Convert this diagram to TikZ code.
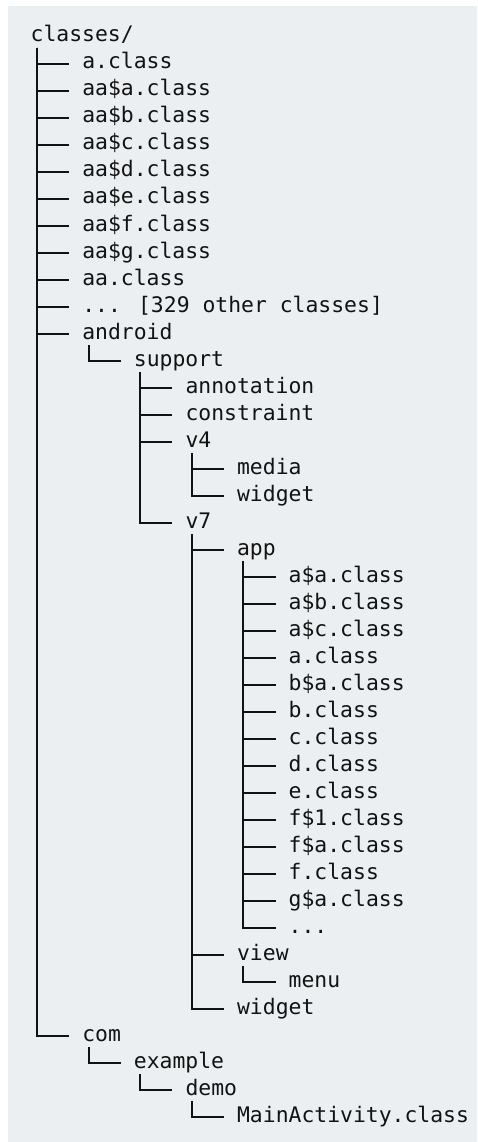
\documentclass[tikz,border=0pt]{standalone}
\usepackage{fontspec}
\newfontfamily\treefont{DejaVu Sans Mono}
\usepackage{tikz}
\definecolor{pagebg}{RGB}{236,239,241}
\definecolor{ink}{RGB}{18,18,18}
\tikzstyle{entry}=[anchor=base west,inner sep=0pt,text height=10pt,text depth=0pt,text=ink,font=\treefont\fontsize{21.4}{27}\selectfont]
\tikzstyle{branch}=[draw=ink,line width=2pt]
\begin{document}
\begin{tikzpicture}[x=1pt,y=-1pt]
\useasboundingbox (0,0) rectangle (477,1142);
\fill[pagebg] (8,6) rectangle (477,1142);
% level 0 and 1
\node[entry] (root) at (30.5,42) {classes/};
\node[entry] (a) at (82.1,69) {a.class};
\node[entry] (aaa) at (82.1,96) {aa\$a.class};
\node[entry] (aab) at (82.1,123) {aa\$b.class};
\node[entry] (aac) at (82.1,150) {aa\$c.class};
\node[entry] (aad) at (82.1,177) {aa\$d.class};
\node[entry] (aae) at (82.1,204) {aa\$e.class};
\node[entry] (aaf) at (82.1,231) {aa\$f.class};
\node[entry] (aag) at (82.1,258) {aa\$g.class};
\node[entry] (aa) at (82.1,285) {aa.class};
\node[entry] (other) at (82.1,312) {... [329 other classes]};
\node[entry] (android) at (82.1,339) {android};
\node[entry] (com) at (82.1,1041) {com};
% android/support
\node[entry] (support) at (133.7,366) {support};
\node[entry] (annot) at (185.3,393) {annotation};
\node[entry] (constr) at (185.3,420) {constraint};
\node[entry] (vfour) at (185.3,447) {v4};
\node[entry] (media) at (236.9,474) {media};
\node[entry] (widgetA) at (236.9,501) {widget};
\node[entry] (vseven) at (185.3,528) {v7};
\node[entry] (app) at (236.9,555) {app};
\foreach \t [count=\i] in {a\$a.class,a\$b.class,a\$c.class,a.class,b\$a.class,b.class,c.class,d.class,e.class,f\$1.class,f\$a.class,f.class,g\$a.class}
  \node[entry] (app\i) at (288.5,{555+27*\i}) {\t};
\node[entry] (app14) at (288.5,933) {{...}};
\node[entry] (view) at (236.9,960) {view};
\node[entry] (menu) at (288.5,987) {menu};
\node[entry] (widgetB) at (236.9,1014) {widget};
% com/example
\node[entry] (example) at (133.7,1068) {example};
\node[entry] (demo) at (185.3,1095) {demo};
\node[entry] (main) at (236.9,1122) {MainActivity.class};
% tree lines
\foreach \p/\c in {root/a,root/aaa,root/aab,root/aac,root/aad,root/aae,root/aaf,root/aag,root/aa,root/other,root/android,root/com,
  android/support,support/annot,support/constr,support/vfour,support/vseven,vfour/media,vfour/widgetA,
  vseven/app,vseven/view,vseven/widgetB,view/menu,com/example,example/demo,demo/main}
  \draw[branch] ([xshift=6.45pt,yshift=-6pt]\p.base west) |- ([xshift=-12.9pt]\c.west);
\foreach \i in {1,2,3,4,5,6,7,8,9,10,11,12,13,14}
  \draw[branch] ([xshift=6.45pt,yshift=-6pt]app.base west) |- ([xshift=-12.9pt]app\i.west);
\end{tikzpicture}
\end{document}
